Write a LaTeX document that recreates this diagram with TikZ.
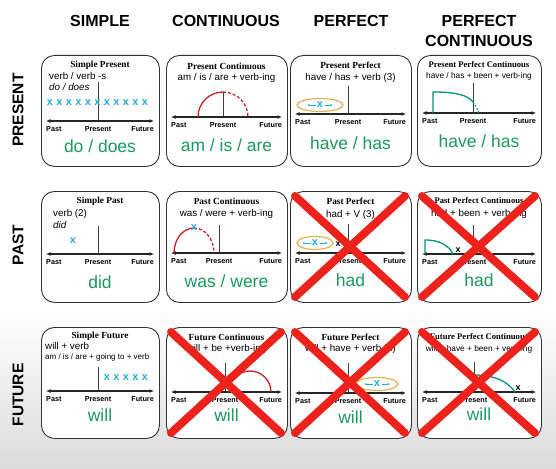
\documentclass[tikz,border=0pt]{standalone}
\usepackage{fontspec}
\setmainfont{Liberation Sans}
\newfontfamily\serifttl{Liberation Serif}
\usetikzlibrary{arrows.meta}
\definecolor{grn}{RGB}{25,155,95}
\definecolor{cyx}{RGB}{40,170,220}
\definecolor{redx}{RGB}{235,35,28}
\definecolor{arcred}{RGB}{205,35,35}
\definecolor{tealc}{RGB}{0,150,125}
\definecolor{gold}{RGB}{225,180,80}
\tikzset{
 cellbox/.style={draw=black!80, line width=0.9pt, rounded corners=13pt, fill=white, anchor=north west, minimum height=111pt, inner sep=0pt},
 hdr/.style={font=\fontsize{16}{20}\selectfont\bfseries, align=center},
 rowlab/.style={font=\fontsize{15.5}{17}\selectfont\bfseries, rotate=90},
 ttl/.style={font=\fontsize{9.3}{10}\selectfont\serifttl\bfseries, inner sep=0pt},
 ttlsm/.style={font=\fontsize{8.6}{9}\selectfont\serifttl\bfseries, inner sep=0pt},
 frm/.style={font=\fontsize{9.8}{10}\selectfont, inner sep=0pt},
 frmi/.style={font=\fontsize{9.8}{10}\selectfont\itshape, inner sep=0pt},
 frmsm/.style={font=\fontsize{8.3}{9}\selectfont, inner sep=0pt},
 frmxs/.style={font=\fontsize{8}{8}\selectfont, inner sep=0pt},
 tmlab/.style={font=\fontsize{7.2}{8}\selectfont\bfseries, inner sep=0pt},
 bigtxt/.style={font=\fontsize{17.5}{19}\selectfont, text=grn, inner sep=0pt},
 axisl/.style={line width=1.1pt, black!85, {Latex[length=4.5pt,width=4pt]}-{Latex[length=4.5pt,width=4pt]}},
 nowl/.style={line width=1pt, black!75},
 xm/.style={font=\fontsize{11}{11}\selectfont\bfseries, text=cyx, inner sep=0pt},
 kx/.style={font=\fontsize{9}{9}\selectfont\bfseries, inner sep=0pt},
 redcross/.style={redx, line width=8pt, line cap=round},
 ellp/.style={draw=gold, line width=1.2pt, fill=white},
 smarr/.style={cyx, line width=0.8pt, -{Latex[length=2.4pt,width=2.2pt]}},
 arcl/.style={arcred, line width=1.3pt},
 tealine/.style={tealc, line width=1.3pt}
}
\newcommand\timeaxis[5]{%
 \coordinate (pa#1) at (5,#3);
 \coordinate (fu#1) at ({#2-5},#3);
 \coordinate (now#1) at (#4,#3);
 \coordinate (top#1) at (#4,#5);
 \draw[nowl] (top#1) -- (now#1);
 \draw[axisl] (pa#1) -- (fu#1);
 \node[tmlab, anchor=north west] (lp#1) at (5,{#3+5}) {Past};
 \node[tmlab, anchor=north] (ln#1) at (#4,{#3+5}) {Present};
 \node[tmlab, anchor=north east] (lf#1) at ({#2-5},{#3+5}) {Future};
}
\newcommand\perfell[4]{% name, cx, cy, rx
 \coordinate (ec#1) at (#2,#3);
 \draw[ellp] (ec#1) ellipse [x radius=#4, y radius=6.5];
 \node[xm] (ex#1) at (ec#1) {x};
 \draw[smarr] ([xshift=-4.5pt]ec#1) -- ([xshift=-13pt]ec#1);
 \draw[smarr] ([xshift=4.5pt]ec#1) -- ([xshift=13pt]ec#1);
}
\newcommand\redX[2]{% width, name
 \coordinate (xa#2) at (5,5);
 \coordinate (xb#2) at ({#1-6},106);
 \coordinate (xc#2) at ({#1-6},5);
 \coordinate (xd#2) at (5,106);
 \draw[redcross] (xa#2) -- (xb#2);
 \draw[redcross] (xc#2) -- (xd#2);
}
\begin{document}
\begin{tikzpicture}[x=1pt,y=-1pt]
\useasboundingbox (0,0) rectangle (556,468);
\fill[white] (0,0) rectangle (556,468);
\shade[top color=white, bottom color=black!14] (0,308) rectangle (556,468);
% headers
\node[hdr] (hs) at (100,21) {SIMPLE};
\node[hdr] (hc) at (226,21) {CONTINUOUS};
\node[hdr] (hp) at (351,21) {PERFECT};
\node[hdr] (hpc) at (479,31) {PERFECT\\CONTINUOUS};
\node[rowlab] (rpr) at (18,110) {PRESENT};
\node[rowlab] (rpa) at (18,245) {PAST};
\node[rowlab] (rfu) at (18,395) {FUTURE};
% ---------- row 1
\begin{scope}[shift={(41,55)}]
 \node[cellbox, minimum width=118pt] (b11) at (0,0) {};
 \node[ttl] (t11) at (59,10) {Simple Present};
 \node[frm, anchor=west] (f11) at (8,21) {verb / verb -s};
 \node[frmi, anchor=west] (g11) at (8,32) {do / does};
 \timeaxis{11}{118}{66}{57}{27}
 \foreach \i in {0,...,10} \node[xm] (x11-\i) at ({9+9.5*\i},48) {x};
 \node[bigtxt] (a11) at (59,91) {do / does};
\end{scope}
\begin{scope}[shift={(166,55)}]
 \node[cellbox, minimum width=121pt] (b12) at (0,0) {};
 \node[ttl] (t12) at (60.5,11) {Present Continuous};
 \node[frm] (f12) at (60.5,23) {am / is / are + verb-ing};
 \timeaxis{12}{121}{62}{57}{37}
 \coordinate (s12) at (32,62);
 \draw[arcl] (s12) arc[start angle=180, end angle=270, radius=25] coordinate (m12);
 \draw[arcl, dashed, dash pattern=on 3pt off 2pt] (m12) arc[start angle=270, end angle=360, radius=25];
 \node[bigtxt] (a12) at (60.5,90) {am / is / are};
\end{scope}
\begin{scope}[shift={(290,55)}]
 \node[cellbox, minimum width=121pt] (b13) at (0,0) {};
 \node[ttl] (t13) at (60.5,10) {Present Perfect};
 \node[frm] (f13) at (60.5,23) {have / has + verb (3)};
 \timeaxis{13}{121}{59}{58}{31}
 \perfell{13}{30}{50}{23}
 \node[bigtxt] (a13) at (60.5,88) {have / has};
\end{scope}
\begin{scope}[shift={(417,55)}]
 \node[cellbox, minimum width=124pt] (b14) at (0,0) {};
 \node[ttlsm] (t14) at (62,10) {Present Perfect Continuous};
 \node[frmsm] (f14) at (62,21) {have / has + been + verb-ing};
 \timeaxis{14}{124}{58}{56}{28}
 \coordinate (p14a) at (16,58);
 \coordinate (p14b) at (16,37);
 \coordinate (p14c) at (56,47);
 \coordinate (p14d) at (62,58);
 \draw[tealine] (p14a) -- (p14b) .. controls (38,37) and (51,40) .. (p14c);
 \draw[tealine, dashed, dash pattern=on 2pt off 1.5pt, line width=0.9pt] (p14c) .. controls (59,51) and (61,55) .. (p14d);
 \node[bigtxt] (a14) at (62,86) {have / has};
\end{scope}
% ---------- row 2
\begin{scope}[shift={(41,191)}]
 \node[cellbox, minimum width=118pt] (b21) at (0,0) {};
 \node[ttl] (t21) at (59,10) {Simple Past};
 \node[frm, anchor=west] (f21) at (12,23) {verb (2)};
 \node[frmi, anchor=west] (g21) at (12,34) {did};
 \timeaxis{21}{118}{63}{57}{35}
 \node[xm] (x21) at (32,50) {x};
 \node[bigtxt] (a21) at (59,91) {did};
\end{scope}
\begin{scope}[shift={(166,191)}]
 \node[cellbox, minimum width=121pt] (b22) at (0,0) {};
 \node[ttl] (t22) at (60.5,10) {Past Continuous};
 \node[frm] (f22) at (60.5,23) {was / were + verb-ing};
 \timeaxis{22}{121}{62}{53}{34}
 \coordinate (s22) at (8,62);
 \draw[arcl] (s22) arc[start angle=180, end angle=270, x radius=20, y radius=25] coordinate (m22);
 \draw[arcl, dashed, dash pattern=on 3pt off 2pt] (m22) arc[start angle=270, end angle=360, x radius=20, y radius=25];
 \node[xm] (x22) at (m22) {x};
 \node[bigtxt] (a22) at (60.5,90) {was / were};
\end{scope}
\begin{scope}[shift={(290,191)}]
 \node[cellbox, minimum width=121pt] (b23) at (0,0) {};
 \node[ttl] (t23) at (60.5,10) {Past Perfect};
 \node[frm] (f23) at (60.5,24) {had + V (3)};
 \timeaxis{23}{121}{62}{58}{33}
 \perfell{23}{25}{52}{18}
 \node[kx] (k23) at (48,53) {x};
 \node[bigtxt] (a23) at (60.5,89) {had};
 \redX{121}{23}
\end{scope}
\begin{scope}[shift={(417,191)}]
 \node[cellbox, minimum width=124pt] (b24) at (0,0) {};
 \node[ttlsm] (t24) at (62,10) {Past Perfect Continuous};
 \node[frm] (f24) at (62,23) {had + been + verb-ing};
 \timeaxis{24}{124}{63}{56}{34}
 \coordinate (p24a) at (8,63);
 \coordinate (p24b) at (8,49);
 \coordinate (p24c) at (36,63);
 \draw[tealine] (p24a) -- (p24b) .. controls (24,49) and (32,55) .. (p24c);
 \node[kx] (k24) at (41,59) {x};
 \node[bigtxt] (a24) at (62,89) {had};
 \redX{124}{24}
\end{scope}
% ---------- row 3
\begin{scope}[shift={(41,327)}]
 \node[cellbox, minimum width=118pt] (b31) at (0,0) {};
 \node[ttl] (t31) at (59,9) {Simple Future};
 \node[frm, anchor=west] (f31) at (4,19) {will + verb};
 \node[frmxs, anchor=west] (g31) at (4,30) {am / is / are + going to + verb};
 \timeaxis{31}{118}{64}{57}{40}
 \foreach \i in {0,...,4} \node[xm] (x31-\i) at ({66+9.5*\i},51) {x};
 \node[bigtxt] (a31) at (59,88) {will};
\end{scope}
\begin{scope}[shift={(166,327)}]
 \node[cellbox, minimum width=121pt] (b32) at (0,0) {};
 \node[ttl] (t32) at (60.5,10) {Future Continuous};
 \node[frm] (f32) at (60.5,22) {will + be +verb-ing};
 \timeaxis{32}{121}{65}{59}{36}
 \coordinate (s32) at (63,65);
 \draw[arcl] (s32) arc[start angle=180, end angle=360, radius=21];
 \node[bigtxt] (a32) at (60.5,88) {will};
 \redX{121}{32}
\end{scope}
\begin{scope}[shift={(290,327)}]
 \node[cellbox, minimum width=121pt] (b33) at (0,0) {};
 \node[ttl] (t33) at (60.5,10) {Future Perfect};
 \node[frm] (f33) at (60.5,22) {will + have + verb (3)};
 \timeaxis{33}{121}{66}{58}{36}
 \perfell{33}{87}{57}{21}
 \node[bigtxt] (a33) at (60.5,90) {will};
 \redX{121}{33}
\end{scope}
\begin{scope}[shift={(417,327)}]
 \node[cellbox, minimum width=124pt] (b34) at (0,0) {};
 \node[ttlsm] (t34) at (62,10) {Future Perfect Continuous};
 \node[frmsm] (f34) at (62,22) {will + have + been + verb-ing};
 \timeaxis{34}{124}{65}{57}{35}
 \coordinate (p34a) at (57,48);
 \coordinate (p34b) at (98,65);
 \draw[tealine] (p34a) .. controls (80,48) and (92,56) .. (p34b);
 \node[kx] (k34) at (101,61) {x};
 \node[bigtxt] (a34) at (62,87) {will};
 \redX{124}{34}
\end{scope}
\end{tikzpicture}
\end{document}
